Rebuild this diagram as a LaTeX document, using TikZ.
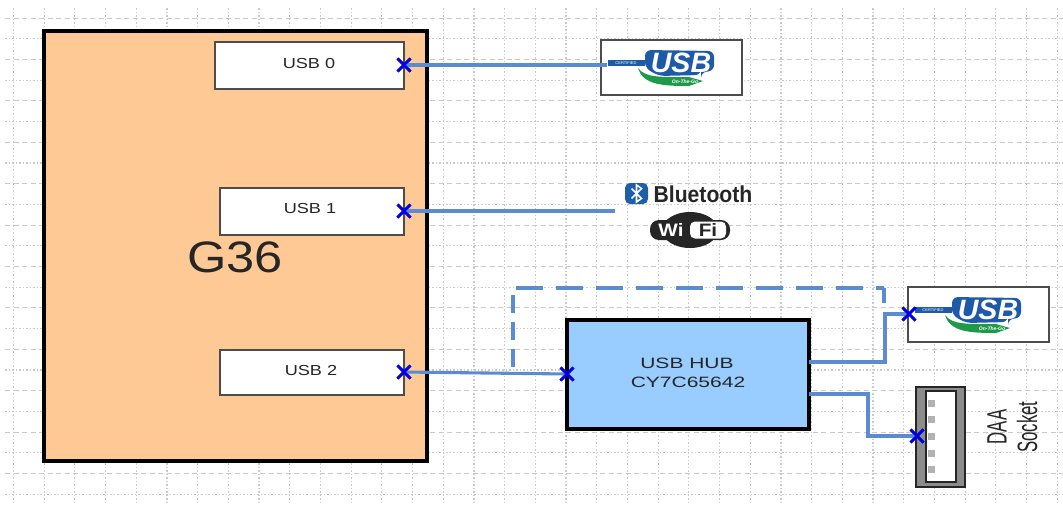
\documentclass[tikz,border=0pt]{standalone}
\usepackage{fontspec}
\setmainfont{Liberation Sans}
\usetikzlibrary{shapes.misc,calc}
\definecolor{linkblue}{HTML}{5B8BD0}
\definecolor{gridgray}{HTML}{CACACA}
\definecolor{orangefill}{HTML}{FFC996}
\definecolor{hubfill}{HTML}{99CCFF}
\definecolor{logoblue}{HTML}{1E5AA8}
\definecolor{logogreen}{HTML}{1E9A4A}
\definecolor{btblue}{HTML}{1F5FA8}
\newcommand{\fsz}[1]{\fontsize{#1}{#1}\selectfont}
\tikzset{
  x=1pt,y=-1pt,
  gridh/.style={gridgray,line width=1pt,dash pattern=on 5pt off 3.5pt},
  gridd/.style={gridgray,line width=1.2pt,dash pattern=on 1.6pt off 1.9pt},
  box/.style={draw=black!70,line width=1.6pt,fill=white,inner sep=0pt,text=black!85},
  thick box/.style={draw=black,line width=3.2pt,inner sep=0pt},
  link/.style={draw=linkblue,line width=3.1pt},
  dashv/.style={draw=linkblue,line width=3.2pt,dash pattern=on 18pt off 9pt},
  dashh/.style={draw=linkblue,line width=3.2pt,dash pattern=on 27pt off 13pt},
  xmark/.style={cross out,draw=blue!90!black,line width=2.6pt,minimum size=13pt,inner sep=0pt,outer sep=0pt},
  lbl/.style={font=\fsz{14.5},xscale=1.25,text=black!85},
}
\newcommand{\usblogo}[2]{%
  \begin{scope}[shift={(#1,#2)}]
    \fill[logoblue] (7,20) rectangle (44,26);
    \node[text=white,font=\fsz{4},inner sep=0pt] (#1cert) at (25,23) {CERTIFIED};
    \fill[logogreen] (37,28) .. controls (44,38) and (60,37) .. (88,37) -- (102,41) -- (88,46) .. controls (62,46) and (42,45) .. (37,28) -- cycle;
    \node[text=white,font=\fsz{5}\itshape\bfseries,inner sep=0pt] (#1otg) at (84,41.5) {On-The-Go};
    \fill[logoblue,rounded corners=6pt] (44,10) -- (113,11) -- (113,31) -- (100,32) -- (100,35) -- (58,36) -- (44,28) -- cycle;
    \node[text=white,font=\fsz{28}\bfseries\itshape,inner sep=0pt,xscale=1.02] (#1usb) at (80,22.5) {USB};
  \end{scope}}
\begin{document}
\begin{tikzpicture}
\useasboundingbox (0,0) rectangle (1063,504);
\fill[white] (0,0) rectangle (1063,504);
% grid
\foreach \k in {0,...,34}{
  \draw[gridd] ({13.4+30.7*\k},8) -- ({13.4+30.7*\k},504);
}
\foreach \k in {0,2,...,22}{
  \draw[gridh] (5,{18+20.7*\k}) -- (1063,{18+20.7*\k});
}
\foreach \k in {1,3,...,23}{
  \draw[gridd] (5,{18+20.7*\k}) -- (1063,{18+20.7*\k});
}
% main board
\node[thick box,fill=orangefill,minimum width=383pt,minimum height=430pt] (g36) at (235.5,246) {};
\node[font=\fsz{44},xscale=1.15,text=black!85] (g36t) at (235,257) {G36};
\node[box,minimum width=189pt,minimum height=47pt] (usb0) at (309.5,65.5) {};
\node[lbl] (usb0t) at (309,64) {USB 0};
\node[box,minimum width=184pt,minimum height=47pt] (usb1) at (312,211.5) {};
\node[lbl] (usb1t) at (310,209) {USB 1};
\node[box,minimum width=184pt,minimum height=45pt] (usb2) at (312,372.5) {};
\node[lbl] (usb2t) at (311,371) {USB 2};
% hub
\node[thick box,fill=hubfill,minimum width=242pt,minimum height=109pt] (hub) at (688,374.5) {};
\node[font=\fsz{15},xscale=1.4,text=black!85] (hubt1) at (687,363) {USB HUB};
\node[font=\fsz{15},xscale=1.4,text=black!85] (hubt2) at (688,382) {CY7C65642};
% usb logos
\node[box,minimum width=141pt,minimum height=55pt] (logoa) at (671.5,67.5) {};
\usblogo{601}{40}
\node[box,minimum width=141pt,minimum height=55pt] (logob) at (978.5,314.5) {};
\usblogo{908}{287}
% bluetooth
\node[fill=btblue,rounded corners=5pt,minimum width=23pt,minimum height=21pt,inner sep=0pt] (bt) at (636.5,193.5) {};
\draw[white,line width=1.6pt,line join=miter] (631.5,188.5) -- (641.5,198.5) -- (636.5,202) -- (636.5,185) -- (641.5,188.5) -- (631.5,198.5);
\node[font=\fsz{23}\bfseries,xscale=.92,text=black!85,inner sep=0pt] (btt) at (703,194) {Bluetooth};
\coordinate (btend) at (615,211);
% wifi
\fill[black!85,rounded corners=9pt] (650,220) rectangle (730,240);
\fill[black!85] (690,230) ellipse (28pt and 18pt);
\node[fill=white,rounded corners=5pt,minimum width=36pt,minimum height=17pt,inner sep=0pt] (fi) at (708,230) {};
\node[font=\fsz{18}\bfseries,text=white,inner sep=0pt,xscale=1.15] (wi) at (671,230) {Wi};
\node[font=\fsz{18}\bfseries,text=black!85,inner sep=0pt,xscale=1.15] (fit) at (708,230) {Fi};
% socket
\node[draw=black!85,line width=1.2pt,fill=black!45,minimum width=49pt,minimum height=100pt,inner sep=0pt] (sock) at (940.5,437) {};
\node[draw=black!85,line width=1.2pt,fill=white,minimum width=30pt,minimum height=91pt,inner sep=0pt] (sockin) at (941,436.5) {};
\foreach \n/\y in {1/403,2/419,3/436,4/453,5/469}{
  \node[fill=black!30,minimum size=7pt,inner sep=0pt] (pin\n) at (931.5,\y) {};
}
\node[font=\fsz{28},rotate=90,xscale=.6,text=black!85,inner sep=0pt] (daa) at (997,427) {DAA};
\node[font=\fsz{28},rotate=90,xscale=.6,text=black!85,inner sep=0pt] (sockt) at (1027,427) {Socket};
% markers
\node[xmark] (m0) at (404,65) {};
\node[xmark] (m1) at (404,211) {};
\node[xmark] (m2) at (404,372) {};
\node[xmark] (m3) at (567,374) {};
\node[xmark] (m4) at (909,314) {};
\node[xmark] (m5) at (917,436) {};
\coordinate (la) at (607,65);
\coordinate (hs1) at (809,362);
\coordinate (hs2) at (809,394);
\coordinate (da) at (513,367);
\coordinate (dc) at (513,295);
\coordinate (de) at (516,288);
\coordinate (df) at (884,288);
\coordinate (db) at (884,303);
% connectors
\draw[link] (m0.center) -- (la);
\draw[link] (m1.center) -- (btend);
\draw[link] (m2.center) -- (m3.center);
\draw[link] (hs1) -- (885,362) -- (885,314) -- (m4.center);
\draw[link] (hs2) -- (868,394) -- (868,436) -- (m5.center);
\draw[dashv] (da) -- (dc);
\draw[dashh] (de) -- (df);
\draw[link] (df) -- (db);
\foreach \m in {m0,m1,m2,m3,m4,m5}{\node[xmark] at (\m) {};}
\end{tikzpicture}
\end{document}
